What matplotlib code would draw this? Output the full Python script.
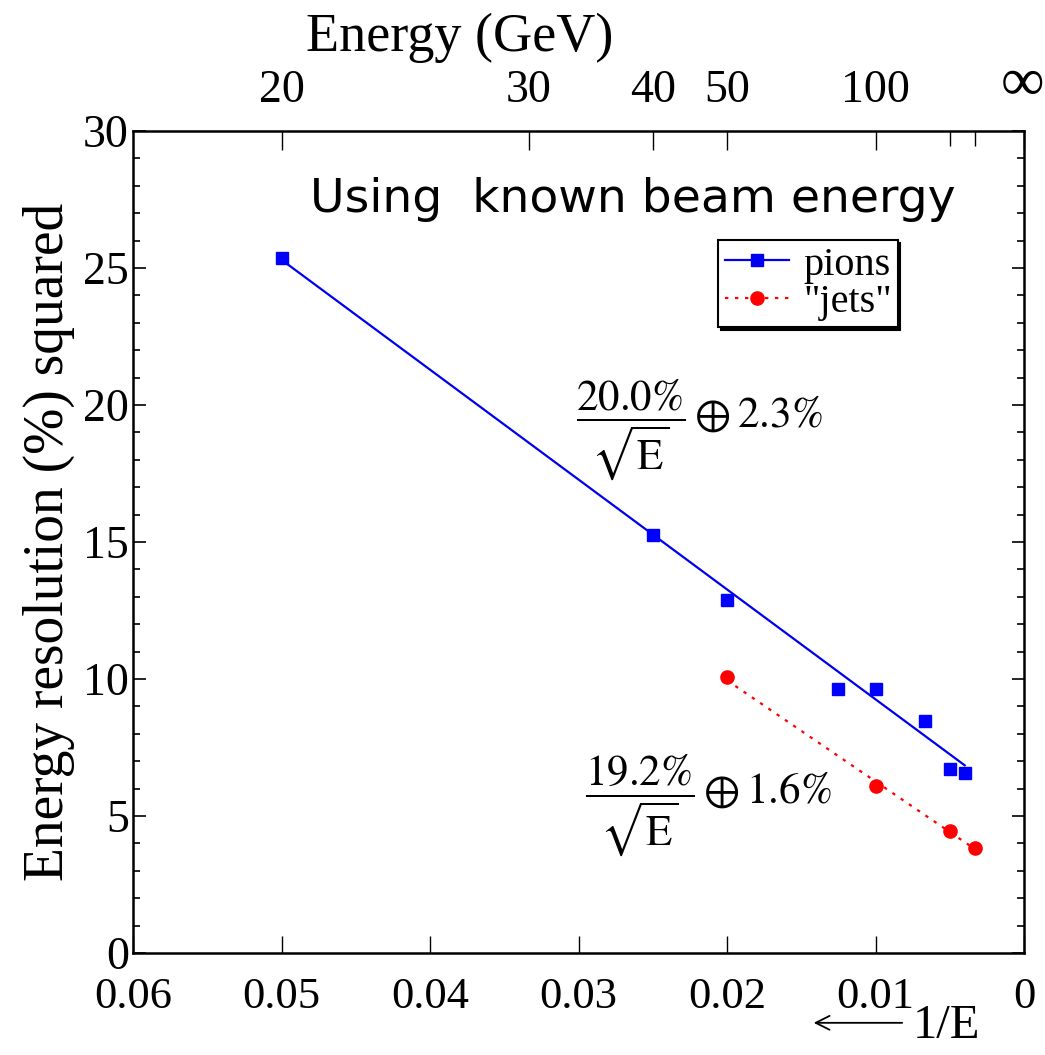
import matplotlib
matplotlib.use("Agg")
import matplotlib.pyplot as plt
from matplotlib.ticker import MultipleLocator

plt.rcParams['font.family'] = ['Liberation Serif', 'DejaVu Serif']
plt.rcParams['mathtext.fontset'] = 'stix'

# pions: beam energy (GeV) and resolution squared (%^2)
pion_energy = [20, 40, 50, 80, 100, 150, 200, 250]
pion_res2 = [25.35, 15.25, 12.9, 9.63, 9.63, 8.47, 6.72, 6.57]
# "jets"
jet_energy = [50, 100, 200, 300]
jet_res2 = [10.07, 6.09, 4.45, 3.83]

# fitted straight lines (end points)
pion_fit_energy = [20, 250]
pion_fit_res2 = [25.3, 6.85]
jet_fit_energy = [50, 300]
jet_fit_res2 = [9.95, 3.8]

top_labelled = [20, 30, 40, 50, 100]
top_unlabelled = [200, 300]

inv = lambda e: [1.0 / v for v in e]

fig = plt.figure(figsize=(10.45, 10.55), dpi=100)
ax = fig.add_axes([0.1273, 0.0967, 0.8527, 0.7791])

ax.plot(inv(pion_fit_energy), pion_fit_res2, color='#0000ee', lw=1.6)
ax.plot(inv(jet_fit_energy), jet_fit_res2, color='#ff0000', lw=1.6, ls=(0, (1.5, 3)))
ax.plot(inv(pion_energy), pion_res2, ls='none', marker='s', ms=9, color='#0000ff')
ax.plot(inv(jet_energy), jet_res2, ls='none', marker='o', ms=9.5, color='#ff0000')

# legend proxies
ax.plot([], [], color='#0000ee', lw=1.6, marker='s', ms=9, label='pions')
ax.plot([], [], color='#ff0000', lw=1.6, ls=(0, (1.5, 3)), marker='o', ms=9.5, label='"jets"')
leg = ax.legend(loc='upper left', bbox_to_anchor=(0.657, 0.867), borderaxespad=0,
                fontsize=29, handlelength=1.6, handletextpad=0.35, borderpad=0.15,
                labelspacing=0.0, fancybox=False, framealpha=1,
                shadow={'color': 'black', 'alpha': 1})
leg.get_frame().set_edgecolor('black')
leg.get_frame().set_linewidth(1.5)

ax.set_xlim(0.06, 0)
ax.set_ylim(0, 30)
ax.yaxis.set_major_locator(MultipleLocator(5))
ax.yaxis.set_minor_locator(MultipleLocator(1))
ax.set_xticks([0.06, 0.05, 0.04, 0.03, 0.02, 0.01, 0])
ax.set_xticklabels(['0.06', '0.05', '0.04', '0.03', '0.02', '0.01', '0'])
ax.tick_params(axis='x', which='major', direction='in', length=12, width=1,
               labelsize=32, pad=17, top=False)
ax.tick_params(axis='y', which='major', direction='in', length=9, width=1.2,
               labelsize=33, right=True, pad=3)
ax.tick_params(axis='y', which='minor', direction='in', length=5, width=1.2, right=True)
for s in ax.spines.values():
    s.set_linewidth(1.8)

ax.set_ylabel('Energy resolution (%) squared', fontsize=40, labelpad=6)

# top energy axis
top = ax.twiny()
top.set_xlim(ax.get_xlim())
top.set_xticks(inv(top_labelled) + [0])
top.set_xticklabels([str(e) for e in top_labelled] + [''])
top.set_xticks(inv(top_unlabelled), minor=True)
top.tick_params(axis='x', which='major', direction='in', length=14, width=1,
                labelsize=33, pad=14)
top.tick_params(axis='x', which='minor', direction='in', length=11, width=1)
for s in top.spines.values():
    s.set_visible(False)

fig.text(0.999, 0.905, '\u221e', fontsize=44, ha='right', va='baseline')
fig.text(0.44, 0.964, 'Energy (GeV)', fontsize=39, ha='center', va='center')

# "<-- 1/E" below the x axis
fig.text(0.873, 0.016, '1/E', fontsize=35, ha='left', va='baseline')
fig.add_artist(matplotlib.patches.FancyArrowPatch(
    (0.866, 0.0305), (0.776, 0.0305), transform=fig.transFigure,
    arrowstyle='->,head_length=0.5,head_width=0.25', lw=1.3, color='black',
    mutation_scale=20))

ax.text(0.0481, 27.5, 'Using  known beam energy', family='DejaVu Sans',
        fontsize=34, ha='left', va='center')
ax.text(0.0302, 19.1, r'$\dfrac{20.0\%}{\sqrt{\mathrm{E}}}\oplus 2.3\%$',
        fontsize=31, ha='left', va='center')
ax.text(0.0296, 5.4, r'$\dfrac{19.2\%}{\sqrt{\mathrm{E}}}\oplus 1.6\%$',
        fontsize=31, ha='left', va='center')

fig.savefig('out.png', dpi=100)
